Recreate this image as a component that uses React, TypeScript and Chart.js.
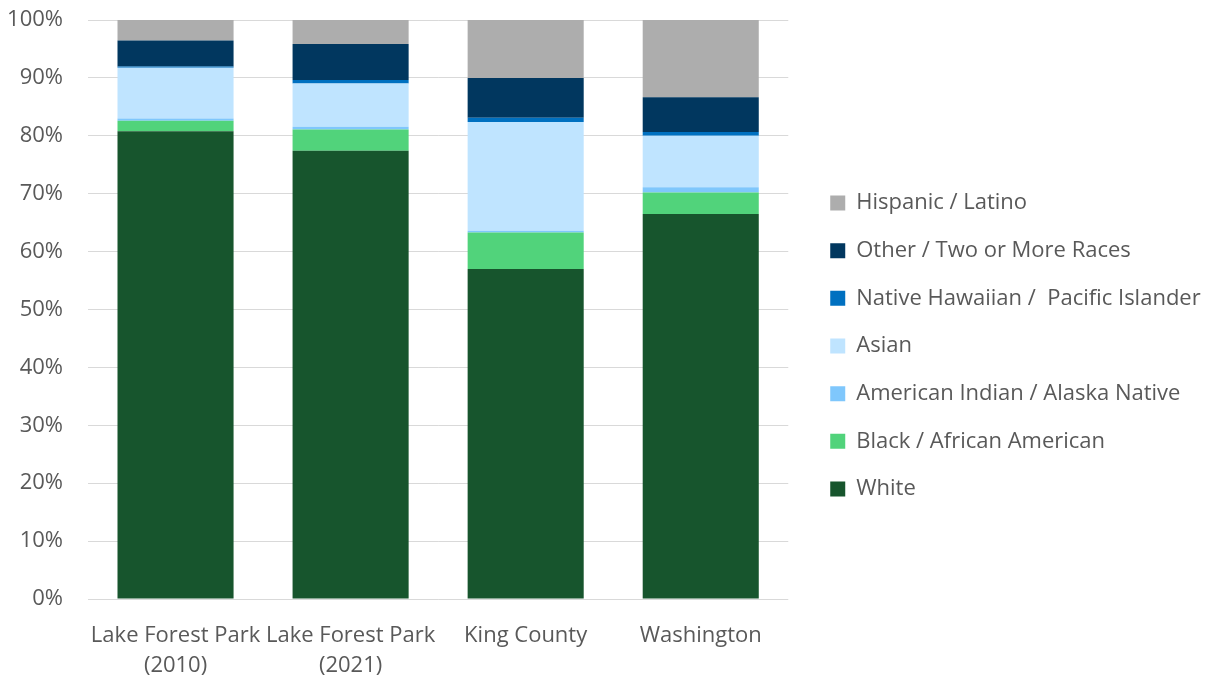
import React, { useEffect, useRef } from "react";
import { Chart, registerables } from "chart.js";

Chart.register(...registerables);

const categories: (string | string[])[] = [
  ["Lake Forest Park", "(2010)"],
  ["Lake Forest Park", "(2021)"],
  "King County",
  "Washington",
];

const white = [80.8, 77.4, 57.0, 66.5];
const black = [1.8, 3.7, 6.3, 3.7];
const aian = [0.4, 0.45, 0.3, 0.9];
const asian = [8.75, 7.5, 18.8, 8.9];
const nhpi = [0.2, 0.6, 0.7, 0.65];
const other = [4.5, 6.2, 6.9, 6.0];
const hispanic = [3.55, 4.15, 10.0, 13.35];

const yTicks = [0, 10, 20, 30, 40, 50, 60, 70, 80, 90, 100];

const FONT = "'Open Sans', 'Noto Sans', sans-serif";
const TEXT = "#595959";

export default function App() {
  const ref = useRef<HTMLCanvasElement | null>(null);

  useEffect(() => {
    if (!ref.current) return;
    const mk = (label: string, data: number[], color: string) => ({
      label,
      data,
      backgroundColor: color,
      borderWidth: 0,
      barPercentage: 0.663,
      categoryPercentage: 1,
    });
    const chart = new Chart(ref.current, {
      type: "bar",
      data: {
        labels: categories,
        datasets: [
          mk("White", white, "#17552d"),
          mk("Black / African American", black, "#51d37b"),
          mk("American Indian / Alaska Native", aian, "#7fc7fc"),
          mk("Asian", asian, "#bfe4ff"),
          mk("Native Hawaiian /  Pacific Islander", nhpi, "#0070c0"),
          mk("Other / Two or More Races", other, "#01375f"),
          mk("Hispanic / Latino", hispanic, "#adadad"),
        ],
      },
      options: {
        animation: false,
        responsive: true,
        maintainAspectRatio: false,
        layout: { padding: { top: 13, right: 9.3, bottom: 0, left: 0 } },
        plugins: {
          tooltip: { enabled: false },
          legend: {
            position: "right",
            reverse: true,
            maxWidth: 600,
            labels: {
              boxWidth: 15,
              boxHeight: 15,
              padding: 25.67,
              color: TEXT,
              font: { family: FONT, size: 22 },
            },
          },
        },
        scales: {
          x: {
            stacked: true,
            afterFit: (s: any) => {
              s.height = 80;
            },
            grid: { display: false, drawTicks: false },
            border: { display: false },
            ticks: {
              color: TEXT,
              font: { family: FONT, size: 22, lineHeight: 30 / 22 },
              padding: 22,
              maxRotation: 0,
              autoSkip: false,
            },
          },
          y: {
            stacked: true,
            min: 0,
            max: 100,
            afterFit: (s: any) => {
              s.width = 88;
            },
            afterBuildTicks: (s: any) => {
              s.ticks = yTicks.map((v) => ({ value: v }));
            },
            grid: {
              color: "#d9d9d9",
              lineWidth: 1,
              drawTicks: true,
              tickLength: 25,
              tickColor: "rgba(0,0,0,0)",
            },
            border: { display: false },
            ticks: {
              color: TEXT,
              padding: 0,
              font: { family: FONT, size: 22, lineHeight: 40 / 22 },
              callback: (v: any) => v + "%",
            },
          },
          gap: {
            type: "linear",
            position: "right",
            display: true,
            grid: { display: false, drawTicks: false },
            border: { display: false },
            ticks: { display: false },
            afterFit: (s: any) => {
              s.width = 16.3;
            },
          },
        },
      } as any,
    });
    return () => chart.destroy();
  }, []);

  return (
    <div style={{ position: "fixed", left: 0, top: 0, width: 1220, height: 679, background: "#fff" }}>
      <canvas ref={ref} />
    </div>
  );
}
